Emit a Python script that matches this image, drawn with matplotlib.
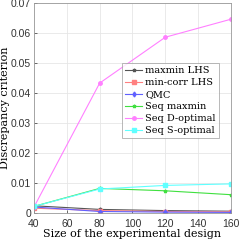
import numpy as np
import matplotlib
matplotlib.use('Agg')
import matplotlib.pyplot as plt

sizes = [40, 80, 120, 160]
maxmin_lhs = [0.0024, 0.0012, 0.0008, 0.0006]
mincorr_lhs = [0.0016, 0.0008, 0.0005, 0.0004]
qmc = [0.0020, 0.0005, 0.0003, 0.0002]
seq_maxmin = [0.0022, 0.0082, 0.0074, 0.0061]
seq_dopt = [0.0020, 0.0433, 0.0586, 0.0646]
seq_sopt = [0.0022, 0.0080, 0.0092, 0.0097]

labels = ['maxmin LHS', 'min-corr LHS', 'QMC', 'Seq maxmin', 'Seq D-optimal', 'Seq S-optimal']
series = [maxmin_lhs, mincorr_lhs, qmc, seq_maxmin, seq_dopt, seq_sopt]
colors = ['#555555', '#ff8080', '#6060ff', '#40e040', '#ff80ff', '#60ffff']
markers = ['*', 's', 'd', '*', 'o', 's']

fig = plt.figure(figsize=(2.40, 2.41), dpi=100)
ax = fig.add_axes([34 / 240, 28 / 241, 197 / 240, 210 / 241])

for s, lab, c, m in zip(series, labels, colors, markers):
    ax.plot(sizes, s, color=c, marker=m, markersize=2.5, linewidth=0.8, label=lab)

ax.set_xlim(40, 160)
ax.set_ylim(0, 0.07)
ax.set_xticks([40, 60, 80, 100, 120, 140, 160])
ax.set_yticks(np.arange(0, 0.071, 0.01))
ax.set_yticklabels(['0', '0.01', '0.02', '0.03', '0.04', '0.05', '0.06', '0.07'])
ax.grid(True, color='#e6e6e6', linewidth=0.6)
ax.set_axisbelow(True)
for sp in ax.spines.values():
    sp.set_color('#999999')
    sp.set_linewidth(0.6)
ax.tick_params(labelsize=7.5, colors='#333333', length=2, width=0.5, direction='in', pad=2)
ax.tick_params(axis='x', pad=4)
for t in ax.get_xticklabels() + ax.get_yticklabels():
    t.set_family('Liberation Sans')

ax.set_xlabel('Size of the experimental design', family='DejaVu Serif', fontsize=8, labelpad=0)
ax.set_ylabel('Discrepancy criterion', family='DejaVu Serif', fontsize=8, labelpad=1)

leg = ax.legend(loc='center right', bbox_to_anchor=(0.965, 0.535),
                prop={'family': 'DejaVu Serif', 'size': 7}, handlelength=1.8,
                handletextpad=0.3, borderpad=0.35, labelspacing=0.3, fancybox=False)
leg.get_frame().set_edgecolor('#999999')
leg.get_frame().set_linewidth(0.6)

fig.savefig('out.png', dpi=100)
